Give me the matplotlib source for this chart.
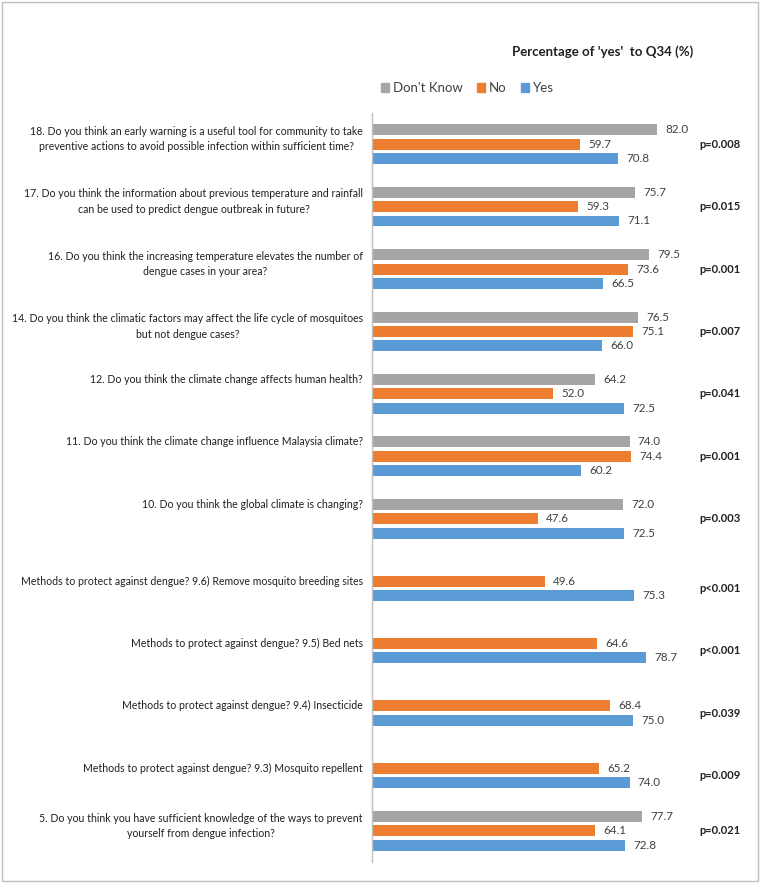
import numpy as np
import matplotlib
matplotlib.use("Agg")
import matplotlib.pyplot as plt
from matplotlib.patches import Patch, Rectangle

plt.rcParams['font.family'] = ['Lato', 'DejaVu Sans']

# questions, top to bottom
questions = [
    "18. Do you think an early warning is a useful tool for community to take\npreventive actions to avoid possible infection within sufficient time?",
    "17. Do you think the information about previous temperature and rainfall\ncan be used to predict dengue outbreak in future?",
    "16. Do you think the increasing temperature elevates the number of\ndengue cases in your area?",
    "14. Do you think the climatic factors may affect the life cycle of mosquitoes\nbut not dengue cases?",
    "12. Do you think the climate change affects human health?",
    "11. Do you think the climate change influence Malaysia climate?",
    "10. Do you think the global climate is changing?",
    "Methods to protect against dengue? 9.6) Remove mosquito breeding sites",
    "Methods to protect against dengue? 9.5) Bed nets",
    "Methods to protect against dengue? 9.4) Insecticide",
    "Methods to protect against dengue? 9.3) Mosquito repellent",
    "5. Do you think you have sufficient knowledge of the ways to prevent\nyourself from dengue infection?",
]
dont_know = [82.0, 75.7, 79.5, 76.5, 64.2, 74.0, 72.0, np.nan, np.nan, np.nan, np.nan, 77.7]
no = [59.7, 59.3, 73.6, 75.1, 52.0, 74.4, 47.6, 49.6, 64.6, 68.4, 65.2, 64.1]
yes = [70.8, 71.1, 66.5, 66.0, 72.5, 60.2, 72.5, 75.3, 78.7, 75.0, 74.0, 72.8]
pvals = ["p=0.008", "p=0.015", "p=0.001", "p=0.007", "p=0.041", "p=0.001", "p=0.003",
         "p<0.001", "p<0.001", "p=0.039", "p=0.009", "p=0.021"]

series = [("Don't Know", dont_know, "#A5A5A5"),
          ("No", no, "#ED7D31"),
          ("Yes", yes, "#5B9BD5")]

W, H = 762, 884
fig = plt.figure(figsize=(W / 100, H / 100), dpi=100)
ax = fig.add_axes([372 / W, 1 - 862 / H, (720 - 372) / W, (862 - 113) / H])

y = np.arange(len(questions))
step = 0.23
bh = 0.175
for k, (name, vals, col) in enumerate(series):
    pos = y + (k - 1) * step
    ax.barh(pos, vals, height=bh, color=col, label=name)
    for yy, v in zip(pos, vals):
        if np.isnan(v):
            continue
        ax.annotate("%.1f" % v, (v, yy), xytext=(6, 0), textcoords="offset points",
                    ha="left", va="center", fontsize=8.4, color="#404040")

for i, q in enumerate(questions):
    has_gray = not np.isnan(dont_know[i])
    if "\n" in q:
        off = -0.08
    elif has_gray:
        off = -0.23
    else:
        off = 0
    ax.text(-2.6, i + off, q, ha="right", va="center", multialignment="center",
            fontsize=7.6, linespacing=1.5, color="#202020", clip_on=False)
    poff = 0 if has_gray else step / 2
    ax.text(94.2, i + poff, pvals[i], ha="left", va="center", fontsize=8,
            fontweight="bold", color="#202020", clip_on=False)

ax.set_xlim(0, 100)
ax.set_ylim(len(questions) - 0.5, -0.5)
ax.set_xticks([])
ax.set_yticks([])
for s in ["top", "right", "bottom"]:
    ax.spines[s].set_visible(False)
ax.spines["left"].set_color("#BFBFBF")
ax.spines["left"].set_linewidth(1)

fig.text(603 / W, 1 - 52 / H, "Percentage of 'yes'  to Q34 (%)", ha="center", va="center",
         fontsize=9.5, fontweight="bold", color="#202020")

handles = [Patch(color=c, label=n) for n, v, c in series]
fig.legend(handles=handles, loc="center left", bbox_to_anchor=(381 / W, 1 - 88 / H),
           ncol=3, frameon=False, fontsize=9.5, handlelength=0.6, handleheight=0.6,
           handletextpad=0.3, columnspacing=1.1, borderpad=0, borderaxespad=0,
           labelcolor="#404040")

fig.add_artist(Rectangle((2 / W, 3 / H), 756 / W, 879 / H, transform=fig.transFigure,
                         fill=False, edgecolor="#BFBFBF", linewidth=1))

fig.savefig("out.png", dpi=100)
